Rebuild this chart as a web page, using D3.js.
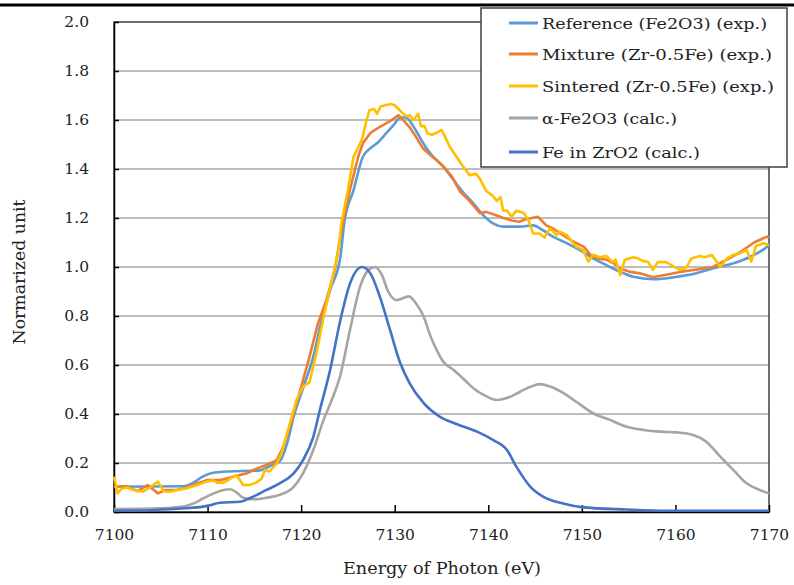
<!DOCTYPE html>
<html><head><meta charset="utf-8">
<script src="https://cdn.jsdelivr.net/npm/d3@7"></script>
<style>body{margin:0;background:#fff}svg text{font-family:"DejaVu Serif",serif;fill:#222}</style>
</head><body><svg id="c" width="794" height="585"></svg>
<script>
const xTicks=[7100,7110,7120,7130,7140,7150,7160,7170];
const yTicks=[0,0.2,0.4,0.6,0.8,1.0,1.2,1.4,1.6,1.8,2.0];
const seriesNames=["Reference (Fe2O3) (exp.)","Mixture (Zr-0.5Fe) (exp.)","Sintered (Zr-0.5Fe) (exp.)","α-Fe2O3 (calc.)","Fe in ZrO2 (calc.)"];
const seriesColors=["#5B9BD5","#ED7D31","#FFC000","#A5A5A5","#4472C4"];
const refE=[7100,7107.4,7108.5,7109.5,7110.6,7112,7115.6,7116.8,7117.8,7118.5,7119.2,7120.2,7121.3,7122.2,7123.1,7124.2,7124.6,7125.6,7126.6,7127.4,7128.1,7129.1,7129.9,7130.6,7131.2,7131.9,7132.6,7133.3,7134,7135.2,7136.3,7137.3,7138.4,7139.5,7140.5,7141.6,7143.4,7144.8,7145.8,7146.9,7148.4,7149.8,7151.2,7152.6,7154.1,7155.5,7157.6,7159.8,7161.9,7164,7166.2,7168,7169.8,7170];
const refV=[0.103,0.105,0.12,0.145,0.16,0.165,0.17,0.19,0.212,0.28,0.389,0.505,0.634,0.784,0.906,1.042,1.178,1.314,1.45,1.485,1.505,1.546,1.58,1.61,1.61,1.58,1.535,1.49,1.455,1.41,1.355,1.305,1.26,1.21,1.178,1.165,1.165,1.17,1.151,1.124,1.097,1.069,1.035,1.008,0.98,0.96,0.95,0.958,0.971,0.994,1.015,1.042,1.083,1.09];
const mixE=[7100,7101.4,7102.5,7103.6,7104.7,7105.5,7106.7,7107.8,7108.8,7109.9,7111.3,7112.7,7114.2,7115.3,7116.3,7117.4,7118.1,7119,7119.9,7120.8,7121.8,7122.7,7123.6,7124.3,7125.2,7126.1,7126.6,7127.4,7128.1,7128.8,7129.5,7130.4,7130.9,7131.6,7132.3,7133,7133.8,7134.5,7135.2,7136.1,7137,7138,7139.1,7139.8,7140.9,7141.6,7142.5,7143.3,7144,7145.3,7146.2,7147,7148,7149,7150.2,7150.9,7151.6,7152.6,7153.4,7154.1,7155.2,7156.2,7157.6,7159,7160.5,7162.3,7164,7165.5,7166.9,7168.4,7169.8,7170];
const mixV=[0.102,0.105,0.085,0.11,0.076,0.09,0.09,0.1,0.115,0.13,0.13,0.144,0.158,0.178,0.192,0.212,0.267,0.376,0.498,0.62,0.77,0.865,0.988,1.15,1.314,1.45,1.505,1.547,1.565,1.58,1.595,1.62,1.6,1.57,1.53,1.485,1.457,1.435,1.41,1.37,1.307,1.27,1.22,1.225,1.21,1.2,1.19,1.185,1.195,1.205,1.17,1.155,1.13,1.105,1.083,1.05,1.035,1.03,1.015,0.994,0.98,0.974,0.958,0.968,0.98,0.99,1.0,1.03,1.06,1.1,1.124,1.12];
const sinE=[7100,7100.4,7100.8,7101.4,7102.1,7103.1,7103.8,7104.7,7105.3,7106,7106.8,7107.8,7108.9,7109.9,7110.6,7111,7111.7,7112.2,7112.7,7113.1,7113.8,7114.5,7115.2,7115.8,7116.1,7116.6,7117.4,7117.9,7118.6,7119.5,7120.2,7120.9,7121.7,7122.4,7123.3,7124,7124.3,7125,7125.6,7126.5,7127,7127.3,7127.8,7128.1,7128.5,7129,7129.6,7130,7130.4,7130.9,7131.3,7131.6,7132,7132.3,7132.5,7132.8,7133.2,7133.5,7134,7134.6,7135,7135.4,7135.9,7136.6,7137.3,7138,7138.7,7139.1,7139.8,7140.5,7140.9,7141.3,7141.6,7142,7142.5,7143,7143.8,7144.3,7144.8,7145.5,7146,7146.6,7147.3,7147.6,7148.4,7149.4,7150.1,7150.7,7151.2,7151.9,7152.6,7153.3,7153.6,7154.1,7154.6,7155.5,7156,7156.5,7157.1,7157.6,7158.1,7159,7159.7,7160.5,7161.2,7161.7,7162.6,7163.1,7163.9,7164.8,7165.5,7166.2,7166.9,7167.6,7168.1,7168.6,7169.4,7170];
const sinV=[0.144,0.076,0.095,0.1,0.09,0.083,0.1,0.124,0.085,0.083,0.09,0.097,0.11,0.124,0.13,0.12,0.12,0.13,0.144,0.15,0.11,0.11,0.12,0.137,0.171,0.165,0.198,0.24,0.335,0.457,0.511,0.53,0.66,0.797,0.947,1.07,1.178,1.314,1.45,1.52,1.6,1.64,1.645,1.625,1.655,1.66,1.665,1.66,1.645,1.625,1.615,1.62,1.6,1.615,1.625,1.575,1.575,1.545,1.54,1.55,1.56,1.53,1.49,1.45,1.41,1.375,1.38,1.36,1.31,1.29,1.27,1.285,1.23,1.23,1.205,1.23,1.22,1.19,1.137,1.137,1.12,1.158,1.13,1.145,1.13,1.083,1.07,1.022,1.05,1.04,1.045,1.02,1.03,0.967,1.03,1.04,1.035,1.025,1.02,0.988,1.02,1.02,1.005,0.988,1.0,1.035,1.045,1.04,1.049,1.0,1.035,1.05,1.056,1.07,1.022,1.085,1.097,1.09];
const alfE=[7100,7105,7107.4,7108.5,7109.5,7110.6,7111.7,7112.4,7113.1,7113.8,7115,7116.3,7117.7,7119.2,7120.2,7121.3,7122.4,7123.3,7124.2,7125.2,7126.3,7127.2,7127.9,7128.6,7129.3,7130.2,7131.5,7132.3,7133.1,7133.8,7134.5,7135.2,7136.3,7137.3,7138.4,7139.5,7140.9,7141.9,7143.4,7144.5,7145.5,7146.6,7148,7149.4,7151.2,7153,7154.8,7156.6,7158.4,7160.1,7161.9,7163.3,7164.8,7166.2,7167.6,7169,7170];
const alfV=[0.012,0.015,0.022,0.035,0.055,0.075,0.09,0.093,0.08,0.058,0.052,0.058,0.07,0.103,0.158,0.253,0.376,0.46,0.56,0.74,0.92,0.988,1.0,0.97,0.9,0.865,0.88,0.85,0.797,0.72,0.66,0.613,0.58,0.545,0.505,0.478,0.457,0.464,0.491,0.511,0.522,0.512,0.486,0.45,0.403,0.376,0.348,0.335,0.328,0.325,0.314,0.287,0.226,0.171,0.117,0.09,0.076];
const feE=[7100,7103,7105,7107.5,7109.5,7110.5,7111.3,7113.5,7114.5,7116.3,7117.7,7119.2,7120.2,7121.3,7122,7123.1,7124.2,7125.2,7126.5,7127.4,7128.4,7129.5,7130.6,7131.6,7133.1,7134.8,7136.6,7138.8,7140.5,7142,7143,7144.5,7145.9,7148,7150,7154.8,7159,7170];
const feV=[0.005,0.006,0.01,0.015,0.022,0.03,0.038,0.042,0.056,0.09,0.117,0.158,0.212,0.307,0.416,0.58,0.785,0.93,1.0,0.974,0.88,0.743,0.607,0.525,0.444,0.389,0.359,0.328,0.294,0.253,0.185,0.103,0.062,0.035,0.02,0.01,0.005,0.005];

const svg=d3.select("#c");
const L=114,R=769,T=22,B=512;
const x=d3.scaleLinear().domain([7100,7170]).range([L,R]);
const y=d3.scaleLinear().domain([0,2]).range([B,T]);

svg.append("line").attr("x1",0).attr("x2",794).attr("y1",5).attr("y2",5).attr("stroke","#000").attr("stroke-width",3);

svg.append("g").selectAll("line").data(yTicks.filter(d=>d>0&&d<2)).join("line")
 .attr("x1",L).attr("x2",R).attr("y1",d=>y(d)).attr("y2",d=>y(d)).attr("stroke","#A6A6A6").attr("stroke-width",1.5);
svg.append("rect").attr("x",L).attr("y",T).attr("width",R-L).attr("height",B-T).attr("fill","none").attr("stroke","#404040").attr("stroke-width",1.5);

const ya=svg.append("g").attr("transform",`translate(${L},0)`).call(d3.axisLeft(y).tickValues(yTicks).tickFormat(d3.format(".1f")).tickSizeInner(-5).tickSizeOuter(0).tickPadding(25));
const xa=svg.append("g").attr("transform",`translate(0,${B})`).call(d3.axisBottom(x).tickValues(xTicks).tickFormat(d3.format("d")).tickSizeInner(-7).tickSizeOuter(0).tickPadding(17));
[ya,xa].forEach(a=>{a.select(".domain").attr("stroke","#000").attr("stroke-width",1.5);a.selectAll(".tick line").attr("stroke","#000").attr("stroke-width",1.5);a.selectAll("text").attr("font-size",15.5).attr("font-family","DejaVu Serif").attr("fill","#333");});

const data=[[refE,refV],[mixE,mixV],[sinE,sinV],[alfE,alfV],[feE,feV]];
const curves=[d3.curveMonotoneX,d3.curveLinear,d3.curveLinear,d3.curveMonotoneX,d3.curveMonotoneX];
const order=[3,4,0,1,2];
const g=svg.append("g");
order.forEach(i=>{
  const pts=data[i][0].map((e,k)=>[e,data[i][1][k]]);
  g.append("path").datum(pts).attr("fill","none").attr("stroke",seriesColors[i]).attr("stroke-width",2.6).attr("stroke-linejoin","round")
   .attr("d",d3.line().x(d=>x(d[0])).y(d=>y(d[1])).curve(curves[i]));
});

svg.append("text").attr("transform","translate(25,272) rotate(-90)").attr("text-anchor","middle").attr("font-size",16).attr("fill","#333").attr("textLength",145).attr("lengthAdjust","spacingAndGlyphs").text("Normarized unit");
svg.append("text").attr("x",442).attr("y",574).attr("text-anchor","middle").attr("font-size",16).attr("fill","#333").attr("textLength",198).attr("lengthAdjust","spacingAndGlyphs").text("Energy of Photon (eV)");

const lg=svg.append("g");
lg.append("rect").attr("x",481).attr("y",8).attr("width",306).attr("height",159).attr("fill","#fff").attr("stroke","#404040").attr("stroke-width",1.5);
const lw=[225,230,232,135,158];
const ly=[23,54,86,118,152];
seriesNames.forEach((n,i)=>{
  lg.append("line").attr("x1",509).attr("x2",538).attr("y1",ly[i]).attr("y2",ly[i]).attr("stroke",seriesColors[i]).attr("stroke-width",3);
  lg.append("text").attr("x",542).attr("y",ly[i]+5.5).attr("font-size",15.5).attr("fill","#333").attr("textLength",lw[i]).attr("lengthAdjust","spacingAndGlyphs").text(n);
});
</script></body></html>
